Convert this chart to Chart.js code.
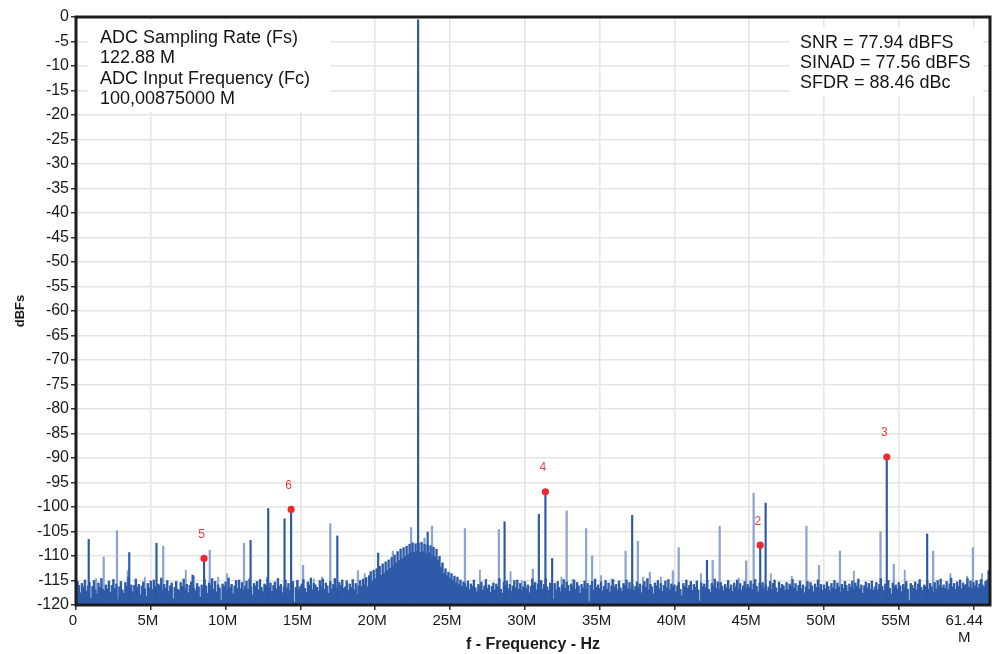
<!DOCTYPE html>
<html><head><meta charset="utf-8">
<script src="https://cdn.jsdelivr.net/npm/chart.js@4.4.0/dist/chart.umd.min.js"></script>
<style>html,body{margin:0;padding:0;background:#fff;overflow:hidden}#wrap{width:994px;height:654px}</style>
</head><body><div id="wrap"><canvas id="c" width="994" height="654"></canvas></div>
<script>
// ---------- DATA ----------
const noiseStartMHz = 0;
const noiseStepMHz = 0.1;
// noise floor level (dBFS) per 0.1 MHz bin, 0.0 ... 61.0 MHz
const noiseFloor = [
-116.8,-115.2,-116.0,-117.5,-115.6,-116.3,-114.9,-117.2,-116.1,-115.4,
-118.6,-116.2,-115.0,-116.9,-117.8,-115.5,-116.4,-114.6,-116.8,-117.1,
-115.9,-116.7,-115.1,-117.4,-116.0,-114.8,-116.6,-115.7,-118.9,-116.3,
-115.2,-116.9,-117.6,-115.4,-116.2,-114.3,-116.8,-115.9,-117.3,-116.0,
-114.7,-116.4,-115.8,-117.9,-116.1,-115.3,-116.7,-118.2,-115.6,-116.5,
-115.1,-116.8,-114.9,-116.3,-117.4,-115.7,-116.0,-114.5,-116.9,-115.8,
-116.6,-115.0,-117.2,-116.1,-115.5,-118.7,-116.4,-115.2,-116.8,-117.0,
-115.4,-116.2,-114.7,-116.9,-115.8,-117.5,-116.0,-115.3,-113.9,-116.6,
-117.1,-115.6,-116.3,-118.4,-115.9,-116.7,-114.8,-116.1,-117.6,-115.5,
-116.0,-114.6,-116.8,-115.2,-117.3,-115.9,-116.5,-119.0,-115.7,-116.2,
-115.3,-116.9,-114.5,-116.4,-115.8,-117.7,-116.1,-115.0,-116.6,-114.9,
-116.7,-115.4,-117.0,-116.2,-115.1,-116.8,-114.7,-116.3,-117.9,-115.6,
-116.1,-115.2,-116.9,-114.8,-116.4,-117.3,-115.7,-116.0,-114.4,-116.6,
-115.5,-117.2,-116.0,-115.3,-116.7,-114.6,-116.2,-115.8,-117.5,-116.3,
-114.9,-116.5,-115.6,-117.0,-116.1,-115.2,-119.4,-116.4,-115.0,-116.8,
-116.2,-115.7,-114.8,-116.6,-117.4,-115.3,-116.0,-114.5,-116.9,-115.6,
-115.9,-116.4,-117.1,-115.0,-116.3,-114.7,-116.8,-115.5,-116.1,-117.6,
-115.2,-116.7,-115.8,-114.6,-116.5,-117.2,-115.4,-116.0,-114.9,-116.6,
-116.3,-115.1,-117.0,-115.7,-116.4,-114.8,-116.9,-115.6,-117.8,-116.1,
-115.0,-116.2,-114.7,-115.9,-114.4,-116.3,-114.0,-113.2,-115.1,-112.9,
-114.6,-112.6,-114.2,-112.1,-113.9,-111.6,-113.5,-111.2,-113.0,-110.8,
-112.5,-110.3,-112.0,-109.8,-111.4,-109.1,-110.9,-108.6,-110.6,-108.3,
-110.1,-108.0,-109.7,-107.6,-109.4,-107.3,-109.2,-107.5,-109.0,-107.4,
-109.3,-107.2,-109.1,-107.6,-109.6,-107.8,-109.4,-107.9,-110.0,-108.2,
-110.2,-108.6,-111.0,-110.1,-112.3,-111.4,-113.5,-112.6,-114.0,-113.3,
-114.6,-113.6,-115.0,-114.1,-115.5,-114.3,-115.8,-114.9,-116.2,-115.3,
-115.6,-116.3,-115.1,-116.8,-115.7,-116.2,-114.9,-116.5,-117.3,-115.8,
-116.4,-115.3,-117.0,-116.1,-114.8,-116.6,-115.9,-117.4,-116.2,-115.5,
-116.9,-115.7,-116.3,-114.6,-116.8,-117.6,-115.4,-116.0,-115.1,-116.7,
-115.8,-117.2,-116.1,-115.0,-116.5,-114.9,-116.8,-115.6,-117.1,-116.3,
-115.2,-116.6,-115.9,-117.5,-116.2,-114.7,-116.0,-115.4,-116.9,-115.7,
-116.4,-115.0,-116.7,-115.8,-114.6,-116.3,-117.0,-115.5,-116.1,-118.8,
-115.6,-116.9,-115.2,-116.4,-117.3,-115.9,-114.8,-116.6,-115.3,-116.0,
-117.2,-115.7,-116.3,-114.9,-116.8,-115.4,-116.1,-117.6,-115.8,-116.5,
-115.1,-116.7,-115.6,-119.3,-116.0,-115.2,-116.9,-114.7,-116.4,-115.9,
-116.6,-115.3,-117.1,-116.2,-115.0,-116.8,-115.5,-117.4,-116.1,-114.8,
-116.3,-115.8,-116.9,-115.1,-116.5,-117.2,-115.6,-116.0,-114.9,-116.7,
-115.4,-116.8,-115.9,-117.0,-116.2,-115.3,-116.6,-115.7,-117.5,-116.0,
-115.2,-116.4,-114.6,-116.9,-115.8,-116.3,-117.7,-115.5,-116.1,-115.0,
-116.7,-115.6,-117.2,-116.0,-115.1,-116.5,-114.8,-116.9,-115.7,-116.3,
-115.9,-117.3,-116.1,-115.4,-116.8,-118.1,-115.6,-116.2,-114.9,-116.6,
-116.0,-115.2,-117.0,-115.8,-116.4,-115.1,-116.9,-119.2,-115.5,-116.3,
-115.7,-116.5,-115.0,-116.8,-117.4,-115.6,-116.1,-114.7,-116.6,-115.3,
-116.9,-115.4,-116.2,-117.1,-115.8,-116.5,-115.0,-116.7,-115.9,-117.2,
-115.5,-116.3,-114.9,-116.8,-115.6,-117.0,-116.1,-115.2,-116.6,-115.8,
-116.4,-115.1,-116.9,-115.7,-114.8,-116.2,-117.3,-115.5,-116.0,-115.4,
-116.7,-115.9,-117.1,-116.3,-115.2,-116.8,-115.6,-114.9,-116.5,-117.4,
-115.3,-116.6,-115.8,-116.1,-117.0,-115.4,-116.9,-115.7,-116.2,-114.8,
-116.5,-115.6,-117.2,-116.0,-115.1,-116.7,-115.9,-117.5,-116.3,-115.2,
-116.8,-115.4,-116.1,-117.3,-115.7,-116.4,-114.9,-116.6,-115.8,-117.0,
-115.9,-116.7,-115.3,-116.2,-117.1,-115.6,-116.5,-115.0,-116.8,-115.5,
-116.3,-117.4,-115.8,-116.6,-115.2,-116.0,-117.2,-115.7,-116.4,-115.1,
-116.9,-115.5,-116.2,-114.7,-116.7,-115.9,-117.6,-116.1,-115.3,-116.5,
-115.6,-116.8,-115.1,-117.0,-116.3,-115.4,-116.9,-115.8,-114.6,-116.2,
-117.1,-115.7,-116.4,-115.0,-116.6,-117.8,-115.5,-116.3,-115.9,-116.7,
-115.4,-116.1,-117.3,-115.8,-116.5,-115.2,-116.8,-119.1,-115.6,-116.0,
-116.6,-115.3,-116.9,-115.7,-114.8,-116.4,-117.0,-115.9,-116.2,-115.1,
-116.8,-115.6,-116.3,-117.5,-115.4,-116.7,-115.0,-116.1,-114.7,-116.5,
-115.9,-116.6,-115.2,-116.9,-115.7,-114.5,-116.3,-115.6,-116.8,-115.3,
-116.2,-114.9,-116.7,-115.5,-116.0,-115.8,-114.6,-116.4,-115.1,-116.6,
-115.4,-116.1,-115.0,-116.5,-115.7,-114.8,-115.9,-116.3,-115.2,-114.9,
-115.5
];
// discrete spurs drawn dark
const spurDarkFreq  = [0.85,3.56,5.38,8.56,11.67,12.85,13.94,14.38,17.47,20.2,22.87,23.51,28.65,30.94,31.38,31.83,37.18,42.18,45.74,46.1,54.2,56.9,61.0];
const spurDarkLevel = [-106.6,-109.3,-107.4,-110.5,-106.8,-100.3,-102.4,-100.5,-105.9,-109.4,-0.6,-105.1,-103.0,-101.5,-96.9,-110.5,-101.7,-110.9,-107.8,-99.2,-89.8,-105.5,-113.0];
// discrete spurs drawn light
const spurLightFreq  = [1.85,2.74,5.83,8.94,11.23,15.18,17.0,18.85,21.18,22.4,23.3,23.8,24.23,26.0,28.27,30.54,32.8,34.1,34.5,36.74,37.56,38.36,39.9,40.29,42.56,43.03,44.8,45.3,48.83,49.67,51.07,53.78,54.67,57.3,59.96];
const spurLightLevel = [-110.2,-104.8,-108.0,-108.8,-107.4,-111.9,-103.4,-113.0,-109.0,-104.2,-106.3,-103.9,-110.9,-104.4,-104.6,-112.7,-100.8,-104.4,-110.0,-109.0,-107.0,-113.3,-113.0,-108.3,-110.9,-103.9,-111.0,-97.2,-103.9,-111.9,-109.0,-105.0,-111.7,-109.0,-108.3];
// small noise peaks
const grassFreq  = [1.34,3.45,4.6,7.34,7.9,9.5,10.1,13.5,14.8,15.9,16.45,18.1,19.3,27.0,29.05,29.8,32.45,33.2,35.1,35.8,37.9,39.1,41.78,44.3,46.45,47.85,52.0,55.4,58.45,59.56,60.56];
const grassLevel = [-114.6,-113.0,-114.3,-112.9,-114.2,-114.3,-113.6,-115.0,-114.9,-114.7,-114.3,-115.0,-113.6,-112.9,-113.2,-115.0,-114.3,-114.7,-114.0,-114.7,-114.3,-114.3,-113.6,-114.5,-113.6,-114.1,-113.1,-112.9,-113.6,-114.1,-113.6];
// harmonic markers
const harmonicFreq   = [45.74, 54.2, 31.38, 8.56, 14.38];
const harmonicLevel  = [-107.8, -89.8, -96.9, -110.5, -100.5];
const harmonicLabels = ['2','3','4','5','6'];
// axes
const xTickValues = [0,5,10,15,20,25,30,35,40,45,50,55,60];
const xTickLabels = ['0','5M','10M','15M','20M','25M','30M','35M','40M','45M','50M','55M',['61.44   ','M   ']];
const xTitle = 'f - Frequency - Hz';
const yTitle = 'dBFs';
const infoLeft  = ['ADC Sampling Rate (Fs)','122.88 M','ADC Input Frequency (Fc)','100,00875000 M'];
const infoRight = ['SNR = 77.94 dBFS','SINAD = 77.56 dBFS','SFDR = 88.46 dBc'];

// ---------- CHART ----------
const FONT = '"Liberation Sans", Arial, Helvetica, sans-serif';
const BASE = -120;
const toBars = (fs, ls) => fs.map((f, i) => ({x: f, y: [BASE, ls[i]]}));
const noisePts = noiseFloor.map((v, i) => ({x: +(noiseStartMHz + i * noiseStepMHz).toFixed(2), y: [BASE, v]}));

const deco = {
  id: 'deco',
  beforeDatasetsDraw(chart) {
    const ctx = chart.ctx;
    ctx.save();
    ctx.fillStyle = '#ffffff';
    ctx.fillRect(88, 20, 242, 92);
    ctx.fillRect(790, 27, 193, 69);
    ctx.restore();
  },
  afterDatasetsDraw(chart) {
    const ctx = chart.ctx, a = chart.chartArea;
    ctx.save();
    const meta = chart.getDatasetMeta(0);
    ctx.font = '12px ' + FONT;
    ctx.fillStyle = '#EE3B3F';
    ctx.textAlign = 'center';
    ctx.textBaseline = 'middle';
    meta.data.forEach((p, i) => ctx.fillText(harmonicLabels[i], p.x - 2.5, p.y - 24));
    ctx.strokeStyle = '#1d1d1d';
    ctx.lineWidth = 3;
    ctx.strokeRect(a.left, a.top, a.right - a.left, a.bottom - a.top);
    ctx.font = '18px ' + FONT;
    ctx.fillStyle = '#141414';
    ctx.textAlign = 'left';
    infoLeft.forEach((t, i) => ctx.fillText(t, 100, 38 + i * 20.4));
    infoRight.forEach((t, i) => ctx.fillText(t, 800, 43 + i * 20));
    ctx.restore();
  }
};

new Chart(document.getElementById('c'), {
  type: 'bar',
  data: {
    datasets: [
      {type: 'scatter', data: harmonicFreq.map((f, i) => ({x: f, y: harmonicLevel[i]})),
       pointRadius: 3.6, pointBackgroundColor: '#EC2A2F', pointBorderWidth: 0, order: 0},
      {data: toBars(spurDarkFreq, spurDarkLevel), backgroundColor: '#2C58A6', barThickness: 1.5, grouped: false, order: 1},
      {data: noisePts, backgroundColor: '#2E5BA8', barThickness: 1.75, grouped: false, order: 2},
      {data: toBars(spurLightFreq, spurLightLevel), backgroundColor: '#8AA5D4', barThickness: 1.6, grouped: false, order: 3},
      {data: toBars(grassFreq, grassLevel), backgroundColor: '#8AA5D4', barThickness: 1.3, grouped: false, order: 4}
    ]
  },
  options: {
    responsive: false, animation: false, devicePixelRatio: 1,
    layout: {padding: {top: 17, right: 1, left: 0, bottom: 0}},
    plugins: {legend: {display: false}, tooltip: {enabled: false}},
    scales: {
      x: {
        type: 'linear', min: 0, max: 61.1, offset: false,
        afterBuildTicks: s => { s.ticks = xTickValues.map(v => ({value: v})); },
        afterFit: s => { s.height = 49; s.paddingLeft = 0; s.paddingRight = 0; },
        ticks: {
          autoSkip: false, maxRotation: 0, padding: 3, labelOffset: -3, color: '#1a1a1a',
          font: {family: FONT, size: 15, lineHeight: 1.1},
          callback: v => xTickLabels[xTickValues.indexOf(v)]
        },
        grid: {color: '#E4E4E4', lineWidth: 1.5, drawTicks: true, tickLength: 5, tickColor: '#333', offset: false},
        border: {display: false},
        title: {display: true, text: xTitle, color: '#1a1a1a', font: {family: FONT, size: 16, weight: 'bold'}, padding: {top: 0, bottom: 0}}
      },
      y: {
        type: 'linear', min: -120, max: 0,
        afterFit: s => { s.width = 76; s.paddingTop = 0; s.paddingBottom = 0; },
        ticks: {stepSize: 5, padding: 2, color: '#1a1a1a', font: {family: FONT, size: 16}},
        grid: {color: '#E4E4E4', lineWidth: 1.5, drawTicks: true, tickLength: 5, tickColor: '#333'},
        border: {display: false},
        title: {display: true, text: yTitle, color: '#1a1a1a', font: {family: FONT, size: 13, weight: 'bold'}, padding: {top: 13, bottom: 0}}
      }
    }
  },
  plugins: [deco]
});
</script></body></html>
